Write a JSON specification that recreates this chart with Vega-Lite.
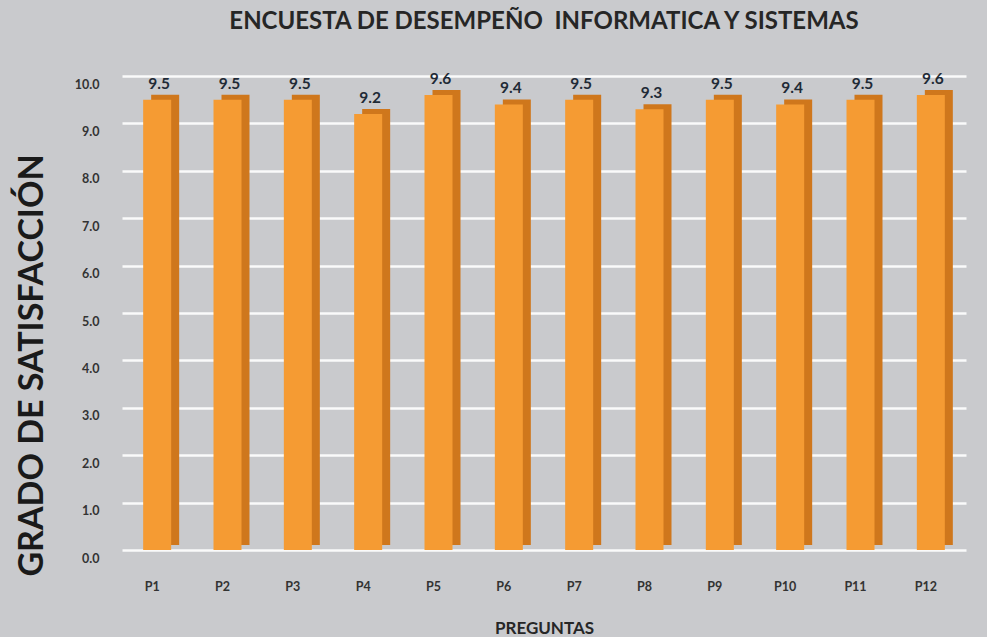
{
  "$schema": "https://vega.github.io/schema/vega-lite/v6.json",
  "autosize": {"type": "none"},
  "width": 844,
  "height": 474,
  "padding": {"left": 122, "top": 76, "right": 21, "bottom": 87},
  "background": "#c9cacd",
  "config": {
    "view": {"stroke": null},
    "font": "Lato"
  },
  "title": {
    "text": "ENCUESTA DE DESEMPEÑO \u00a0INFORMATICA Y SISTEMAS",
    "fontSize": 24,
    "fontWeight": "bold",
    "color": "#262626",
    "font": "Lato",
    "anchor": "middle",
    "offset": 38
  },
  "data": {
    "values": [
      {"pregunta": "P1", "valor": 9.5},
      {"pregunta": "P2", "valor": 9.5},
      {"pregunta": "P3", "valor": 9.5},
      {"pregunta": "P4", "valor": 9.2},
      {"pregunta": "P5", "valor": 9.6},
      {"pregunta": "P6", "valor": 9.4},
      {"pregunta": "P7", "valor": 9.5},
      {"pregunta": "P8", "valor": 9.3},
      {"pregunta": "P9", "valor": 9.5},
      {"pregunta": "P10", "valor": 9.4},
      {"pregunta": "P11", "valor": 9.5},
      {"pregunta": "P12", "valor": 9.6}
    ]
  },
  "encoding": {
    "x": {
      "field": "pregunta",
      "type": "nominal",
      "sort": null,
      "scale": {"paddingInner": 0.6, "paddingOuter": 0.3},
      "axis": {
        "title": "PREGUNTAS",
        "titleFontSize": 17,
        "titleFontWeight": "bold",
        "titleColor": "#262626",
        "titlePadding": 28,
        "labelAngle": 0,
        "labelFontSize": 12.5,
        "labelFontWeight": "bold",
        "labelColor": "#333333",
        "labelPadding": 30,
        "labelOffset": -5,
        "domain": false,
        "ticks": false,
        "grid": false
      }
    },
    "y": {
      "field": "valor",
      "type": "quantitative",
      "scale": {"domain": [0, 10]},
      "axis": {
        "title": "GRADO DE SATISFACCIÓN",
        "titleFontSize": 34,
        "titleFontWeight": "bold",
        "titleColor": "#1a1a1a",
        "titleX": -90,
        "titleY": 289,
        "titleAngle": -90,
        "titleAlign": "center",
        "titleBaseline": "middle",
        "tickCount": 10,
        "format": ".1f",
        "labelFontSize": 12.5,
        "labelFontWeight": "bold",
        "labelColor": "#333333",
        "labelPadding": 23,
        "labelOffset": 8,
        "domain": false,
        "ticks": false,
        "grid": true,
        "gridColor": "#ffffff",
        "gridWidth": 2.5,
        "gridOpacity": 0.9
      }
    }
  },
  "layer": [
    {
      "mark": {"type": "bar", "width": 28, "xOffset": 8, "yOffset": -5, "color": "#cf771c"}
    },
    {
      "mark": {"type": "bar", "width": 28, "xOffset": 0, "color": "#f59b33"}
    },
    {
      "mark": {"type": "text", "dy": -16, "xOffset": 2, "fontSize": 15.5, "fontWeight": "bold", "color": "#1f2a36"},
      "encoding": {"text": {"field": "valor", "type": "quantitative", "format": ".1f"}}
    }
  ]
}
